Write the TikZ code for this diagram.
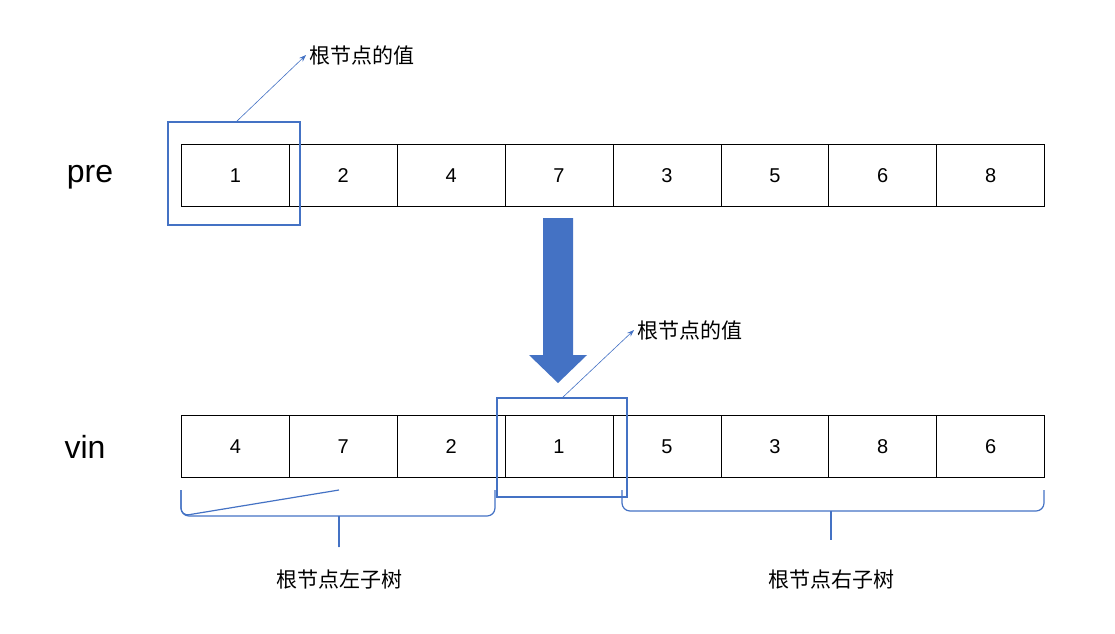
\documentclass[tikz,border=0pt]{standalone}
\usepackage{fontspec}
\setmainfont{Noto Sans CJK SC}
\setsansfont{Liberation Sans}
\usetikzlibrary{arrows.meta}
\definecolor{hl}{RGB}{68,114,196}
\begin{document}
\begin{tikzpicture}[x=1pt,y=-1pt,
  cell/.style={draw=black,line width=0.8pt,minimum width=107.9pt,minimum height=62pt,inner sep=0pt,font=\sffamily\fontsize{20}{20}\selectfont,anchor=north west},
  hbox/.style={draw=hl,line width=2pt},
  lbl/.style={font=\fontsize{21}{21}\selectfont},
  thin/.style={hl,line width=0.6pt,-{Stealth[length=7pt,width=5pt]}},
  br/.style={hl,line width=1.2pt,rounded corners=8pt}]
\useasboundingbox (0,0) rectangle (1115,633);
\foreach \v [count=\i from 0] in {1,2,4,7,3,5,6,8}
  \node[cell] (p\i) at (181+107.9*\i,144) {\v};
\foreach \v [count=\i from 0] in {4,7,2,1,5,3,8,6}
  \node[cell] (v\i) at (181+107.9*\i,415) {\v};
\node[font=\sffamily\fontsize{32}{32}\selectfont] (pre) at (90,177) {pre};
\node[font=\sffamily\fontsize{32}{32}\selectfont] (vin) at (85,447) {vin};
\draw[hbox] (168,122) rectangle (300,225);
\coordinate (a1) at (236,122);
\node[lbl,anchor=west] (r1) at (306,55) {根节点的值};
\draw[thin] (a1) -- (r1.west);
\draw[hbox] (497,398) rectangle (627,497);
\coordinate (a2) at (562,398);
\node[lbl,anchor=west] (r2) at (634,330) {根节点的值};
\draw[thin] (a2) -- (r2.west);
\fill[hl] (543,218) -- (573,218) -- (573,355) -- (587,355) -- (558,383) -- (529,355) -- (543,355) -- cycle;
\coordinate (b1) at (181,490); \coordinate (b2) at (495,490);
\coordinate (b3) at (622,490); \coordinate (b4) at (1044,490);
\coordinate (t1) at (339,547); \coordinate (t2) at (831,540);
\draw[br] (b1) -- (181,516) -- (t1|-b1) ++(0,26) -- (t1);
\draw[br] (181,490) -- (181,516) -- (495,516) -- (495,490);
\draw[hl,line width=1.2pt] (339,516) -- (t1);
\draw[br] (622,490) -- (622,511) -- (1044,511) -- (1044,490);
\draw[hl,line width=1.2pt] (831,511) -- (t2);
\node[lbl] (L) at (339,580) {根节点左子树};
\node[lbl] (R) at (831,580) {根节点右子树};
\end{tikzpicture}
\end{document}
